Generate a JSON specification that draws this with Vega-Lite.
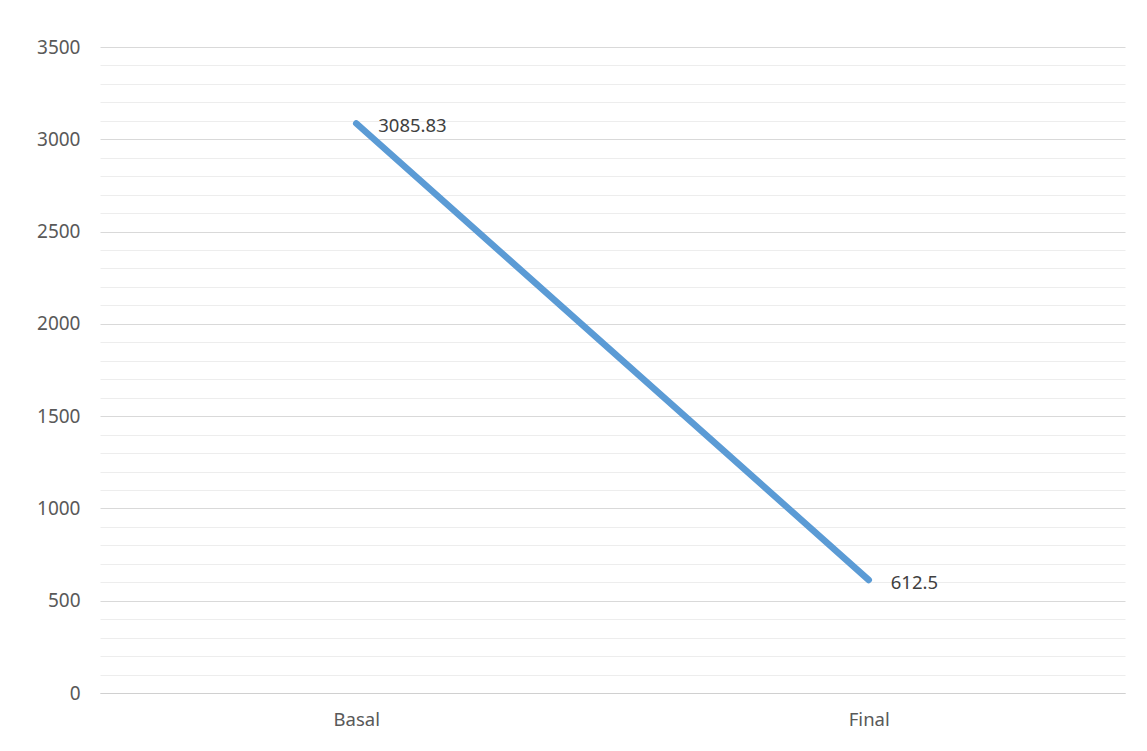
{
  "$schema": "https://vega.github.io/schema/vega-lite/v6.json",
  "width": 1025,
  "height": 646,
  "autosize": {"type": "none"},
  "padding": {"left": 100, "top": 47, "right": 22, "bottom": 58},
  "background": "white",
  "config": {
    "view": {"stroke": null},
    "font": "Noto Sans"
  },
  "data": {
    "values": [
      {"stage": "Basal", "value": 3085.83},
      {"stage": "Final", "value": 612.5}
    ]
  },
  "encoding": {
    "x": {
      "field": "stage",
      "type": "nominal",
      "sort": null,
      "scale": {"type": "point", "padding": 0.5},
      "axis": {
        "title": null,
        "labelAngle": 0,
        "ticks": false,
        "grid": false,
        "domainColor": "#d0d0d0",
        "domainWidth": 1,
        "labelPadding": 17,
        "labelFontSize": 18.5,
        "labelColor": "#595959",
        "labelFont": "Noto Sans"
      }
    },
    "y": {
      "field": "value",
      "type": "quantitative",
      "scale": {"domain": [0, 3500], "nice": false},
      "axis": {
        "title": null,
        "values": [0, 100, 200, 300, 400, 500, 600, 700, 800, 900, 1000, 1100, 1200, 1300, 1400, 1500, 1600, 1700, 1800, 1900, 2000, 2100, 2200, 2300, 2400, 2500, 2600, 2700, 2800, 2900, 3000, 3100, 3200, 3300, 3400, 3500],
        "labelExpr": "datum.value % 500 === 0 ? datum.value : ''",
        "ticks": false,
        "domain": false,
        "gridColor": {"condition": {"test": "datum.value % 500 === 0", "value": "#d9d9d9"}, "value": "#ededed"},
        "gridWidth": 1,
        "labelPadding": 20,
        "labelFontSize": 19,
        "labelColor": "#595959",
        "labelFont": "Noto Sans"
      }
    }
  },
  "layer": [
    {
      "mark": {"type": "line", "color": "#5B9BD5", "strokeWidth": 6.5, "strokeCap": "round"}
    },
    {
      "mark": {"type": "text", "align": "left", "baseline": "middle", "dx": 22, "dy": 3, "fontSize": 18.5, "color": "#404040", "font": "Noto Sans"},
      "encoding": {"text": {"field": "value", "type": "quantitative"}}
    }
  ]
}
